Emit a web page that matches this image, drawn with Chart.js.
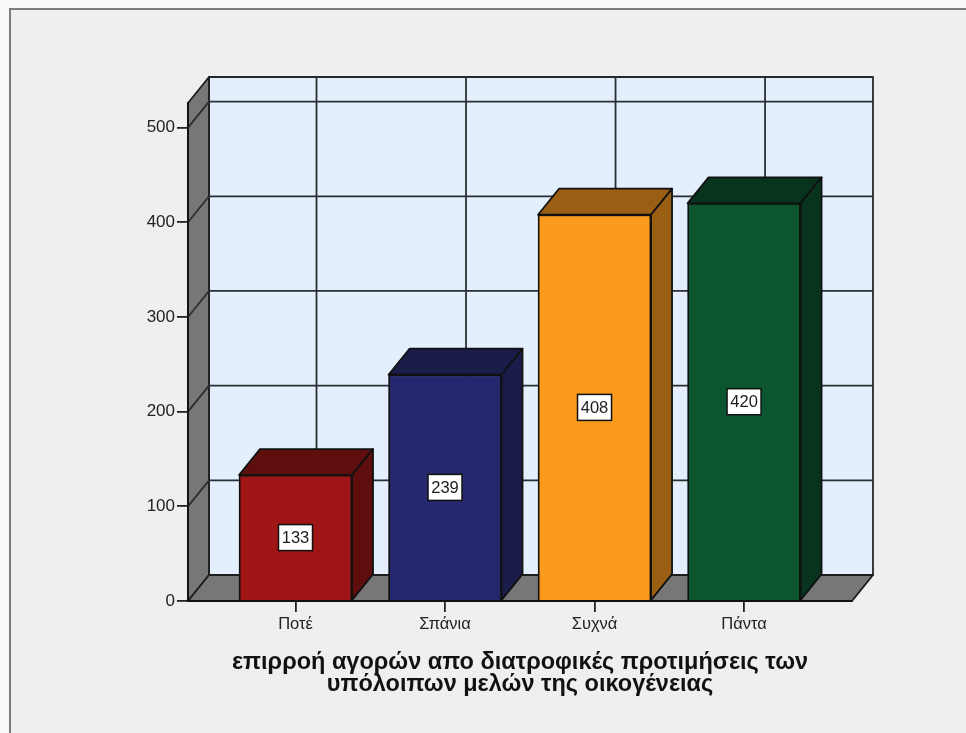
<!DOCTYPE html>
<html>
<head>
<meta charset="utf-8">
<script src="https://cdn.jsdelivr.net/npm/chart.js@4"></script>
<style>
    html, body { margin: 0; padding: 0; background: #fafafa; overflow: hidden; }
    #panel { position: absolute; left: 9px; top: 8px; right: -4px; bottom: -4px; background: #efefef; border: 2px solid #7c7c7c; }
    #wrap { position: absolute; left: 0; top: 0; width: 966px; height: 733px; }
</style>
</head>
<body>
<div id="panel"></div>
<div id="wrap"><canvas id="chart" width="966" height="733"></canvas></div>
<script>
// Data
const categories = ['Ποτέ', 'Σπάνια', 'Συχνά', 'Πάντα'];
const counts = [133, 239, 408, 420];
const frontColors = ['#a01616', '#26286f', '#fb9a1c', '#0b562f'];
const sideColors = ['#5f0e0e', '#1a1c4a', '#9a5f12', '#08331c'];
const axisTitle = ['επιρροή αγορών απο διατροφικές προτιμήσεις των', 'υπόλοιπων μελών της οικογένειας'];

// depth of the fake 3D box
const depthX = 21;
const depthY = 26;

function poly(ctx, pts, fill, stroke, width) {
    ctx.beginPath();
    pts.forEach((p, i) => i ? ctx.lineTo(p[0], p[1]) : ctx.moveTo(p[0], p[1]));
    ctx.closePath();
    ctx.fillStyle = fill;
    ctx.fill();
    ctx.strokeStyle = stroke;
    ctx.lineWidth = width;
    ctx.lineJoin = 'round';
    ctx.stroke();
}

function line(ctx, x1, y1, x2, y2) {
    ctx.beginPath();
    ctx.moveTo(x1, y1);
    ctx.lineTo(x2, y2);
    ctx.stroke();
}

const walls = {
    id: 'walls',
    beforeDraw(chart) {
        const { ctx, scales, chartArea: a } = chart;
        ctx.save();
        // back wall, side wall, floor
        poly(ctx, [[a.left + depthX, a.top - depthY], [a.right + depthX, a.top - depthY], [a.right + depthX, a.bottom - depthY], [a.left + depthX, a.bottom - depthY]], '#e3effc', '#26292c', 1.8);
        poly(ctx, [[a.left, a.top], [a.left + depthX, a.top - depthY], [a.left + depthX, a.bottom - depthY], [a.left, a.bottom]], '#777777', '#1c1c1c', 1.8);
        poly(ctx, [[a.left, a.bottom], [a.left + depthX, a.bottom - depthY], [a.right + depthX, a.bottom - depthY], [a.right, a.bottom]], '#777777', '#1c1c1c', 1.8);

        ctx.strokeStyle = '#2b2e33';
        ctx.lineWidth = 1.8;
        scales.y.ticks.forEach(t => {
            const y = scales.y.getPixelForValue(t.value);
            if (t.value > 0) {
                line(ctx, a.left, y, a.left + depthX, y - depthY);
                line(ctx, a.left + depthX, y - depthY, a.right + depthX, y - depthY);
            }
        });
        scales.x.ticks.forEach(t => {
            const x = scales.x.getPixelForValue(t.value) + depthX;
            line(ctx, x, a.top - depthY, x, a.bottom - depthY);
        });
        ctx.restore();
    },
    beforeDatasetsDraw(chart) {
        const { ctx } = chart;
        ctx.save();
        chart.getDatasetMeta(0).data.forEach((bar, i) => {
            const l = bar.x - bar.width / 2;
            const r = bar.x + bar.width / 2;
            // top and right faces of the box
            poly(ctx, [[l, bar.y], [l + depthX, bar.y - depthY], [r + depthX, bar.y - depthY], [r, bar.y]], sideColors[i], '#111111', 1.8);
            poly(ctx, [[r, bar.y], [r + depthX, bar.y - depthY], [r + depthX, bar.base - depthY], [r, bar.base]], sideColors[i], '#111111', 1.8);
        });
        ctx.restore();
    },
    afterDatasetsDraw(chart) {
        const { ctx } = chart;
        ctx.save();
        ctx.font = '16.5px "Liberation Sans"';
        ctx.textAlign = 'center';
        ctx.textBaseline = 'middle';
        chart.getDatasetMeta(0).data.forEach((bar, i) => {
            const cy = (bar.y + bar.base) / 2;
            ctx.fillStyle = '#ffffff';
            ctx.strokeStyle = '#111111';
            ctx.lineWidth = 1.5;
            ctx.fillRect(bar.x - 17, cy - 13, 34, 26);
            ctx.strokeRect(bar.x - 17, cy - 13, 34, 26);
            ctx.fillStyle = '#1c1c1c';
            ctx.fillText(String(counts[i]), bar.x, cy + 1);
        });
        ctx.restore();
    }
};

new Chart(document.getElementById('chart'), {
    type: 'bar',
    data: {
        datasets: [{
            data: counts.map((v, i) => ({ x: i, y: v })),
            backgroundColor: frontColors,
            borderColor: '#111111',
            borderWidth: 1.8,
            barThickness: 113
        }]
    },
    options: {
        responsive: false,
        animation: false,
        layout: { padding: { left: 0, right: 114, top: 103, bottom: 0 } },
        plugins: { legend: { display: false }, tooltip: { enabled: false } },
        scales: {
            x: {
                type: 'linear',
                offset: false,
                min: -0.719,
                max: 3.722,
                afterBuildTicks(scale) { scale.ticks = categories.map((c, i) => ({ value: i })); },
                afterFit(scale) { scale.height = 132; },
                grid: { offset: false, drawOnChartArea: false, tickLength: 11, color: '#222222', lineWidth: 1.8 },
                border: { color: '#111111', width: 1.8 },
                ticks: {
                    autoSkip: false,
                    maxRotation: 0,
                    padding: 3,
                    color: '#222222',
                    font: { family: '"Liberation Sans"', size: 16.5 },
                    callback: v => categories[v]
                },
                title: {
                    display: true,
                    text: axisTitle,
                    color: '#111111',
                    font: { family: '"Liberation Sans"', size: 23.5, weight: 'bold', lineHeight: 22 / 23.5 },
                    padding: { top: 0, bottom: 37 }
                }
            },
            y: {
                min: 0,
                max: 526,
                afterFit(scale) { scale.width = 188; },
                grid: { drawOnChartArea: false, tickLength: 11, color: '#222222', lineWidth: 1.8 },
                border: { color: '#111111', width: 1.8 },
                ticks: {
                    stepSize: 100,
                    includeBounds: false,
                    padding: 2,
                    color: '#222222',
                    font: { family: '"Liberation Sans"', size: 17 }
                }
            }
        }
    },
    plugins: [walls]
});
</script>
</body>
</html>
